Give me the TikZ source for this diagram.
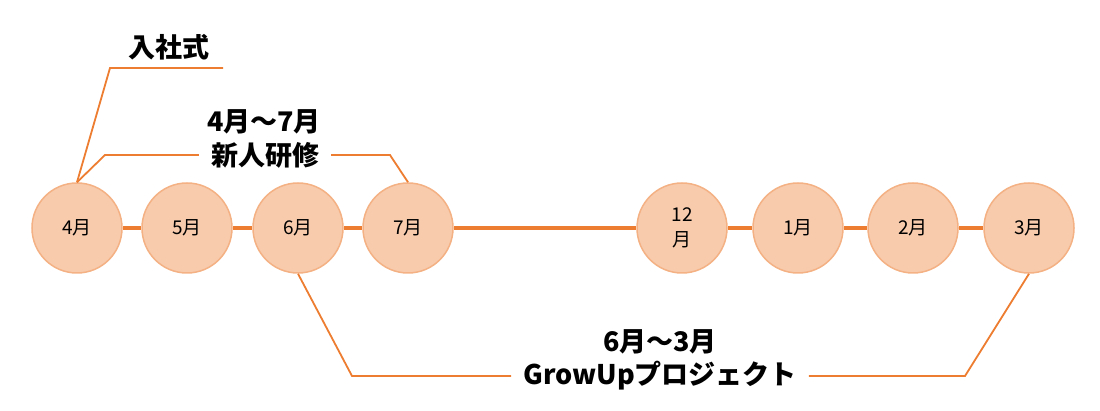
\documentclass[tikz,border=0pt]{standalone}
\usepackage{fontspec}
\setmainfont{Noto Sans CJK JP}
\usepackage{tikz}
\usetikzlibrary{positioning}
\definecolor{tlorange}{HTML}{ED7D31}
\definecolor{monthfill}{HTML}{F8CBAD}
\definecolor{monthdraw}{HTML}{F4B183}
\tikzset{
  month/.style={circle,minimum size=90pt,inner sep=0pt,fill=monthfill,draw=monthdraw,line width=1.5pt,font=\fontsize{19}{25}\selectfont,align=center},
  timeline/.style={tlorange,line width=4pt},
  leader/.style={tlorange,line width=1.8pt},
  event/.style={font=\fontsize{27}{30}\selectfont\bfseries,inner sep=12pt}
}

\begin{document}
\begin{tikzpicture}[x=1pt,y=-1pt]
    \useasboundingbox (0,0) rectangle (1100,411);
    \node[month] (m4) at (77,228) {4月};
    \node[month] (m5) at (187,228) {5月};
    \node[month] (m6) at (298,228) {6月};
    \node[month] (m7) at (408,228) {7月};
    \node[month] (m12) at (682,228) {12\\月};
    \node[month] (m1) at (798,228) {1月};
    \node[month] (m2) at (913,228) {2月};
    \node[month] (m3) at (1029,228) {3月};

    \path[timeline]
    (m4) edge (m5)
    (m5) edge (m6)
    (m6) edge (m7)
    (m7) edge (m12)
    (m12) edge (m1)
    (m1) edge (m2)
    (m2) edge (m3);

    % labels
    \node[event] (nyusha) at (169,47) {入社式};
    \node[event,inner sep=0pt] (kenshuA) at (264,122) {4月～7月};
    \node[event] (kenshu) at (265,155) {新人研修};
    \node[event,inner sep=0pt] (growupA) at (660,342) {6月～3月};
    \node[event] (growup) at (660,376) {GrowUpプロジェクト};
    \coordinate (nyushaEnd) at (223,68);

    \draw[leader] (m4.north) -- (110,68) -- (nyushaEnd);
    \draw[leader] (m4.north) -- (105,155) -- (kenshu.west);
    \draw[leader] (kenshu.east) -- (390,155) -- (m7.north);
    \draw[leader] (m6.south) -- (352,376) -- (growup.west);
    \draw[leader] (growup.east) -- (965,376) -- (m3.south);
\end{tikzpicture}
\end{document}
